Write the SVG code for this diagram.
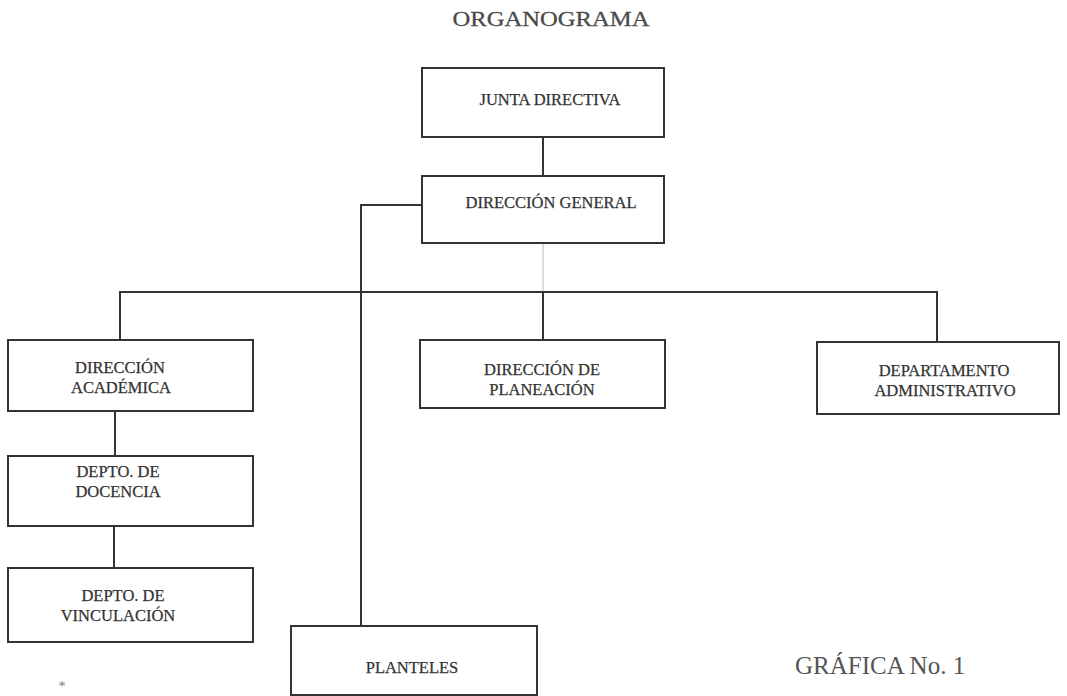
<svg xmlns="http://www.w3.org/2000/svg" width="1067" height="696" viewBox="0 0 1067 696">
<style>
.box{fill:#fff;stroke:#333;stroke-width:2}
.t{font-family:"Liberation Serif","Times New Roman",serif;font-size:16.5px;fill:#333;stroke:#333;stroke-width:0.25;text-anchor:middle}
.ln{fill:none;stroke:#333;stroke-width:2}
.faint{fill:none;stroke:#bbb;stroke-width:1}
</style>
<rect width="1067" height="696" fill="#fff"/>
<text x="551" y="26" font-family="Liberation Serif, serif" font-size="22" fill="#4a4a4a" stroke="#4a4a4a" stroke-width="0.3" text-anchor="middle" textLength="197" lengthAdjust="spacingAndGlyphs">ORGANOGRAMA</text>
<g id="connectors">
<line class="ln" x1="543" y1="137" x2="543" y2="176"/>
<polyline class="ln" points="422,205 361,205 361,626"/>
<line class="faint" x1="543" y1="243" x2="543" y2="292"/>
<polyline class="ln" points="120,340 120,292 937,292 937,342"/>
<line class="ln" x1="543" y1="292" x2="543" y2="340"/>
<line class="ln" x1="115" y1="411" x2="115" y2="456"/>
<line class="ln" x1="114" y1="526" x2="114" y2="568"/>
</g>
<g id="junta">
<rect class="box" x="422" y="68" width="242" height="69"/>
<text class="t" x="550" y="105">JUNTA DIRECTIVA</text>
</g>
<g id="direccion-general">
<rect class="box" x="422" y="176" width="242" height="67"/>
<text class="t" x="551" y="208">DIRECCIÓN GENERAL</text>
</g>
<g id="direccion-academica">
<rect class="box" x="8" y="340" width="245" height="71"/>
<text class="t" x="120" y="373">DIRECCIÓN</text>
<text class="t" x="121" y="393">ACADÉMICA</text>
</g>
<g id="direccion-planeacion">
<rect class="box" x="420" y="340" width="245" height="68"/>
<text class="t" x="542" y="375">DIRECCIÓN DE</text>
<text class="t" x="542" y="395">PLANEACIÓN</text>
</g>
<g id="depto-administrativo">
<rect class="box" x="817" y="342" width="242" height="72"/>
<text class="t" x="944" y="376">DEPARTAMENTO</text>
<text class="t" x="945" y="396">ADMINISTRATIVO</text>
</g>
<g id="depto-docencia">
<rect class="box" x="8" y="456" width="245" height="70"/>
<text class="t" x="118" y="477">DEPTO. DE</text>
<text class="t" x="118" y="497">DOCENCIA</text>
</g>
<g id="depto-vinculacion">
<rect class="box" x="8" y="568" width="245" height="74"/>
<text class="t" x="123" y="601">DEPTO. DE</text>
<text class="t" x="118" y="621">VINCULACIÓN</text>
</g>
<g id="planteles">
<rect class="box" x="291" y="626" width="246" height="69"/>
<text class="t" x="412" y="673">PLANTELES</text>
</g>
<text x="62" y="691" font-family="Liberation Serif, serif" font-size="14" fill="#777" text-anchor="middle">*</text>
<text x="795" y="674" font-family="Liberation Serif, serif" font-size="25" fill="#555">GRÁFICA No. 1</text>
</svg>
